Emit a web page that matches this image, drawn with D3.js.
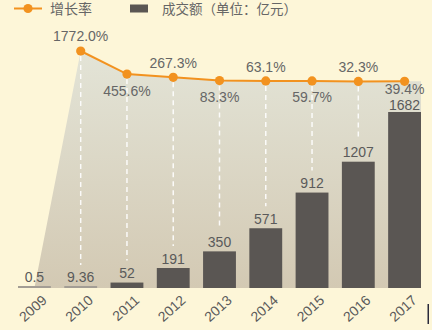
<!DOCTYPE html>
<html>
<head>
<meta charset="utf-8">
<script src="https://cdn.jsdelivr.net/npm/d3@7/dist/d3.min.js"></script>
<style>
  html, body { margin: 0; padding: 0; background: #fdf6d8; }
  svg { display: block; }
  text { font-family: "Liberation Sans", Arial, "Noto Sans CJK SC", sans-serif; }
</style>
</head>
<body>
<svg id="chart" width="432" height="330"></svg>
<script>
const years = ["2009", "2010", "2011", "2012", "2013", "2014", "2015", "2016", "2017"];
const volume = [0.5, 9.36, 52, 191, 350, 571, 912, 1207, 1682];
const volumeLabels = ["0.5", "9.36", "52", "191", "350", "571", "912", "1207", "1682"];
const growthYears = ["2010", "2011", "2012", "2013", "2014", "2015", "2016", "2017"];
const growth = [1772.0, 455.6, 267.3, 83.3, 63.1, 59.7, 32.3, 39.4];
const growthLabels = ["1772.0%", "455.6%", "267.3%", "83.3%", "63.1%", "59.7%", "32.3%", "39.4%"];
const legendNames = ["增长率", "成交额（单位：亿元）"];

const svg = d3.select("#chart");
const W = 432, H = 330;
svg.append("rect").attr("width", W).attr("height", H).attr("fill", "#fdf6d8");

const x = d3.scaleBand().domain(years).range([18, 421]).paddingInner(0.29).paddingOuter(0);
const yBar = d3.scaleLinear().domain([0, 1682]).range([288, 112]);
const yLine = d3.scaleLinear().domain([0, 1772]).range([82, 51]);
const cx = d => x(d) + x.bandwidth() / 2;
const FS = 14;

const defs = svg.append("defs");
const grad = defs.append("linearGradient").attr("id", "areaGrad")
  .attr("x1", 0).attr("y1", 0).attr("x2", 0).attr("y2", 1);
grad.append("stop").attr("offset", "0%").attr("stop-color", "#e3e4d7");
grad.append("stop").attr("offset", "100%").attr("stop-color", "#d3c9b3");

const pts = [[cx(years[0]), yBar(0)]];
growthYears.forEach((yr, i) => pts.push([cx(yr), yLine(growth[i])]));
const lastYr = years[years.length - 1];
pts.push([x(lastYr) + x.bandwidth(), yLine(growth[growth.length - 1])]);
pts.push([x(lastYr) + x.bandwidth(), yBar(0)]);
svg.append("path")
  .attr("d", d3.line()(pts) + "Z")
  .attr("fill", "url(#areaGrad)");

growthYears.forEach((yr, i) => {
  const vi = years.indexOf(yr);
  const y1 = yLine(growth[i]) + 5;
  const y2 = yBar(volume[vi]) - 22;
  if (y2 - y1 > 20) {
    svg.append("line")
      .attr("x1", cx(yr)).attr("x2", cx(yr))
      .attr("y1", y1).attr("y2", y2)
      .attr("stroke", "#ffffff").attr("stroke-width", 1.5)
      .attr("stroke-dasharray", "5,4").attr("opacity", 0.9);
  }
});

svg.selectAll("rect.bar").data(years).enter().append("rect")
  .attr("class", "bar")
  .attr("x", d => x(d))
  .attr("width", x.bandwidth())
  .attr("y", (d, i) => Math.min(yBar(volume[i]), yBar(0) - 2))
  .attr("height", (d, i) => Math.max(yBar(0) - yBar(volume[i]), 2))
  .attr("fill", (d, i) => (yBar(0) - yBar(volume[i]) < 2) ? "#a39d94" : "#5a5653");

// percent label baseline positions
const pctY = growthYears.map((yr, i) => {
  const py = yLine(growth[i]);
  if (i % 2 === 0) return py - (i === 0 ? 10.5 : 9);
  return py + (i === growthYears.length - 1 ? 13 : 21.5);
});

svg.selectAll("text.bl").data(years).enter().append("text")
  .attr("class", "bl")
  .attr("x", d => cx(d))
  .attr("y", (d, i) => {
    let y = Math.min(yBar(volume[i]), yBar(0) - 2) - 4.5;
    const gi = growthYears.indexOf(d);
    if (gi >= 0 && gi % 2 === 1 && pctY[gi] > y - 16 && pctY[gi] < y) y = pctY[gi] + 15.8;
    return y;
  })
  .attr("text-anchor", "middle")
  .attr("font-size", FS)
  .attr("fill", "#5a5a5a")
  .text((d, i) => volumeLabels[i]);

const lineColor = "#f2921f";
svg.append("path")
  .datum(growthYears)
  .attr("d", d3.line().x(d => cx(d)).y((d, i) => yLine(growth[i])))
  .attr("fill", "none").attr("stroke", lineColor).attr("stroke-width", 2);
svg.selectAll("circle.pt").data(growthYears).enter().append("circle")
  .attr("class", "pt")
  .attr("cx", d => cx(d)).attr("cy", (d, i) => yLine(growth[i]))
  .attr("r", 4.6).attr("fill", lineColor);

svg.selectAll("text.pl").data(growthYears).enter().append("text")
  .attr("class", "pl")
  .attr("x", d => cx(d))
  .attr("y", (d, i) => pctY[i])
  .attr("text-anchor", "middle")
  .attr("font-size", FS)
  .attr("fill", "#666666")
  .text((d, i) => growthLabels[i]);

const xAxis = svg.append("g")
  .attr("transform", `translate(0,${yBar(0)})`)
  .call(d3.axisBottom(x).tickSize(0).tickPadding(0));
xAxis.select(".domain").remove();
xAxis.selectAll("text")
  .attr("font-family", "\"Liberation Sans\", Arial, sans-serif")
  .attr("font-size", 14)
  .attr("fill", "#5a5a5a")
  .attr("text-anchor", "end")
  .attr("dy", "0.35em")
  .attr("y", 0)
  .attr("transform", "translate(10,10) rotate(-42)");

const lg = svg.append("g");
lg.append("line").attr("x1", 14).attr("x2", 42).attr("y1", 8.5).attr("y2", 8.5)
  .attr("stroke", lineColor).attr("stroke-width", 2);
lg.append("circle").attr("cx", 28).attr("cy", 8.5).attr("r", 4.6).attr("fill", lineColor);
lg.append("text").attr("x", 50).attr("y", 13.5).attr("font-size", 14)
  .attr("fill", "#666").text(legendNames[0]);
lg.append("rect").attr("x", 130).attr("y", 4.5).attr("width", 18).attr("height", 8)
  .attr("fill", "#5a5653");
lg.append("text").attr("x", 162).attr("y", 13.5).attr("font-size", 13.5)
  .attr("fill", "#666").text(legendNames[1]);

svg.append("rect").attr("x", 427.5).attr("y", 304).attr("width", 1.5).attr("height", 20).attr("fill", "#2a2a3a");
</script>
</body>
</html>
